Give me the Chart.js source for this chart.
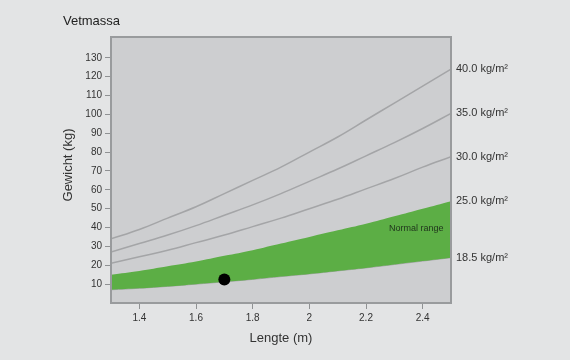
<!DOCTYPE html>
<html>
<head>
<meta charset="utf-8">
<script src="https://cdn.jsdelivr.net/npm/chart.js@4/dist/chart.umd.min.js"></script>
<style>
  html, body { margin: 0; padding: 0; background: #e3e4e5; }
  canvas { display: block; }
</style>
</head>
<body>
<canvas id="bmiChart" width="570" height="360"></canvas>
<script>
  const lengths = [1.3, 1.4, 1.5, 1.6, 1.7, 1.8, 1.9, 2.0, 2.1, 2.2, 2.3, 2.4, 2.5];
  const bmi40 = [34, 39, 45, 51, 58, 65, 72, 80, 88, 97, 106, 115, 124];
  const bmi35 = [27, 31.5, 36, 41, 46.5, 52, 58, 64.5, 71, 78, 85, 92.5, 100.5];
  const bmi30 = [21, 24.5, 28, 32, 36, 40.5, 45, 50, 55, 60.5, 66, 72, 77.5];
  const bmi25 = [15, 17, 19.5, 22, 25, 28, 31.5, 35, 38.5, 42, 46, 50, 54];
  const bmi185 = [7, 7.8, 8.8, 10, 11.2, 12.5, 14, 15.4, 17, 18.6, 20.4, 22.2, 24];
  const curveLabels = ['40.0 kg/m²', '35.0 kg/m²', '30.0 kg/m²', '25.0 kg/m²', '18.5 kg/m²'];
  const person = { x: 1.7, y: 12.4 };
  const xTicks = [1.4, 1.6, 1.8, 2, 2.2, 2.4];
  const yTicks = [10, 20, 30, 40, 50, 60, 70, 80, 90, 100, 110, 120, 130];

  const toPoints = arr => arr.map((v, i) => ({ x: lengths[i], y: v }));
  const lineGrey = '#a4a5a7';
  const green = '#5cae45';
  const font = '"Liberation Sans", Arial, sans-serif';

  function curve(values, extra) {
    return Object.assign({
      data: toPoints(values),
      borderColor: lineGrey,
      borderWidth: 1.5,
      pointRadius: 0,
      tension: 0.4,
      fill: false
    }, extra || {});
  }

  const frame = {
    id: 'frame',
    beforeDraw(chart) {
      const { ctx, chartArea: a } = chart;
      ctx.save();
      ctx.fillStyle = '#cdced0';
      ctx.fillRect(a.left, a.top, a.right - a.left, a.bottom - a.top);
      ctx.restore();
    },
    afterDatasetsDraw(chart) {
      const { ctx, chartArea: a } = chart;
      ctx.save();
      ctx.strokeStyle = '#999b9d';
      ctx.lineWidth = 2;
      ctx.strokeRect(a.left, a.top, a.right - a.left, a.bottom - a.top);
      ctx.restore();
    },
    afterDraw(chart) {
      const { ctx, chartArea: a, scales } = chart;
      const y = scales.y, x = scales.x;
      ctx.save();
      ctx.fillStyle = '#222';
      ctx.font = '13px ' + font;
      ctx.textBaseline = 'middle';
      ctx.textAlign = 'left';
      ctx.fillText('Vetmassa', 63, 21);

      // curve end labels
      const ends = [bmi40, bmi35, bmi30, bmi25, bmi185];
      ctx.font = '11px ' + font;
      ctx.fillStyle = '#333';
      ends.forEach((arr, i) => {
        ctx.fillText(curveLabels[i], a.right + 5, y.getPixelForValue(arr[arr.length - 1]));
      });

      ctx.font = '9px ' + font;
      ctx.fillStyle = '#1f331c';
      ctx.textAlign = 'center';
      ctx.fillText('Normal range', x.getPixelForValue(2.377), y.getPixelForValue(39.6));

      // axis titles
      ctx.font = '13px ' + font;
      ctx.fillStyle = '#333';
      ctx.fillText('Lengte (m)', (a.left + a.right) / 2, 338);
      ctx.translate(68, (a.top + a.bottom) / 2 - 5);
      ctx.rotate(-Math.PI / 2);
      ctx.fillText('Gewicht (kg)', 0, 0);
      ctx.restore();
    }
  };

  new Chart(document.getElementById('bmiChart'), {
    type: 'line',
    data: {
      datasets: [
        curve(bmi40),
        curve(bmi35),
        curve(bmi30),
        curve(bmi25, { borderColor: green, borderWidth: 0, backgroundColor: green, fill: '+1' }),
        curve(bmi185, { borderColor: lineGrey, borderWidth: 1 }),
        {
          type: 'scatter',
          data: [person],
          order: -1,
          pointRadius: 6,
          pointBackgroundColor: '#000',
          pointBorderWidth: 0
        }
      ]
    },
    options: {
      responsive: false,
      animation: false,
      layout: { padding: { top: 37, right: 119, left: 0, bottom: 0 } },
      plugins: { legend: { display: false }, tooltip: { enabled: false } },
      scales: {
        x: {
          type: 'linear',
          min: 1.3,
          max: 2.5,
          afterBuildTicks: s => { s.ticks = xTicks.map(v => ({ value: v })); },
          afterFit: s => { s.height = 57; },
          grid: { drawOnChartArea: false, drawTicks: true, tickLength: 6, color: '#8f9193', lineWidth: 1 },
          border: { display: false },
          ticks: { color: '#333', font: { family: font, size: 10 }, padding: 3, maxRotation: 0,
                   callback: v => String(v) }
        },
        y: {
          min: 0,
          max: 141,
          afterBuildTicks: s => { s.ticks = yTicks.map(v => ({ value: v })); },
          afterFit: s => { s.width = 111; },
          grid: { drawOnChartArea: false, drawTicks: true, tickLength: 6, color: '#8f9193', lineWidth: 1 },
          border: { display: false },
          ticks: { color: '#333', font: { family: font, size: 10 }, padding: 3 }
        }
      }
    },
    plugins: [frame]
  });
</script>
</body>
</html>
